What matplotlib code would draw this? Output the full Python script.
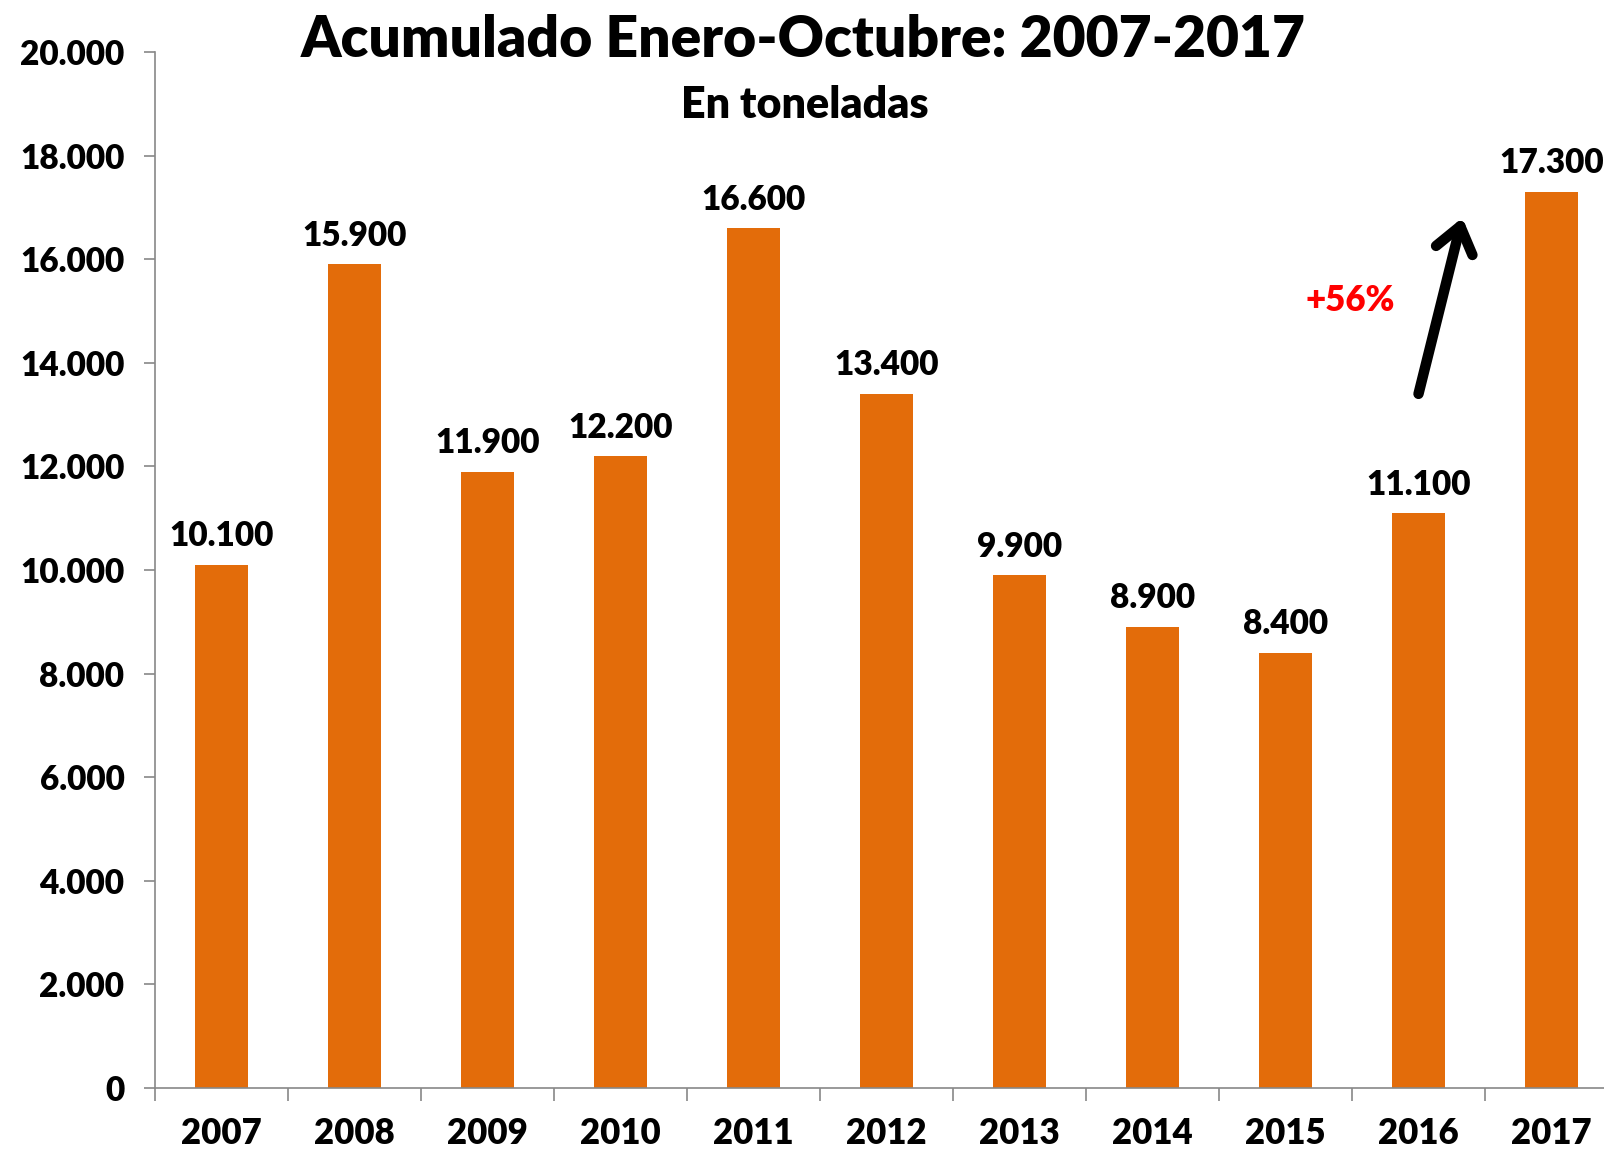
import matplotlib
matplotlib.use("Agg")
import matplotlib.pyplot as plt
import numpy as np

years = ["2007", "2008", "2009", "2010", "2011", "2012", "2013", "2014", "2015", "2016", "2017"]
values = [10100, 15900, 11900, 12200, 16600, 13400, 9900, 8900, 8400, 11100, 17300]
value_labels = ["10.100", "15.900", "11.900", "12.200", "16.600", "13.400", "9.900", "8.900", "8.400", "11.100", "17.300"]
yticks = [0, 2000, 4000, 6000, 8000, 10000, 12000, 14000, 16000, 18000, 20000]
ytick_labels = ["0", "2.000", "4.000", "6.000", "8.000", "10.000", "12.000", "14.000", "16.000", "18.000", "20.000"]

plt.rcParams['font.family'] = ['Lato', 'DejaVu Sans']
W, H = 1604, 1151
fig = plt.figure(figsize=(W/100, H/100), dpi=100)
left, right, top, bottom = 155, 1618, 52, 1088
ax = fig.add_axes([left/W, 1-bottom/H, (right-left)/W, (bottom-top)/H])

FW = 'heavy'
x = np.arange(len(years))
ax.bar(x, values, width=0.4, color='#E36C0A', zorder=2)
ax.set_xlim(-0.5, len(years)-0.5)
ax.set_ylim(0, 20000)

for xi, v, lab in zip(x, values, value_labels):
    ax.annotate(lab, (xi, v), xytext=(0, 9), textcoords='offset points',
                ha='center', va='bottom', fontsize=24, fontweight=FW)

ax.set_yticks(yticks)
ax.set_yticklabels(ytick_labels, fontsize=24, fontweight=FW)
ax.set_xticks(x)
ax.set_xticklabels(years, fontsize=25, fontweight=FW)
ax.set_xticks(np.arange(-0.5, len(years)), minor=True)
ax.tick_params(axis='x', which='major', length=0, pad=21)
ax.tick_params(axis='x', which='minor', length=9, color='#888888', width=1.2)
ax.tick_params(axis='y', length=8, color='#888888', width=1.2, pad=14)
for s in ['top', 'right']:
    ax.spines[s].set_visible(False)
for s in ['left', 'bottom']:
    ax.spines[s].set_color('#888888')
    ax.spines[s].set_linewidth(1.2)

fig.text(803/W, 1-40/H, "Acumulado Enero-Octubre: 2007-2017", ha='center', va='center',
         fontsize=41, fontweight=FW)
fig.text(805/W, 1-105/H, "En toneladas", ha='center', va='center',
         fontsize=31, fontweight=FW)

ax.annotate("", xy=(9.33, 16800), xytext=(9.0, 13400),
            arrowprops=dict(arrowstyle='->,head_length=0.6,head_width=0.45', color='black', lw=7.5,
                            mutation_scale=30, capstyle='round', joinstyle='round',
                            shrinkA=0, shrinkB=0))
ax.text(8.49, 15200, "+56%", color='#FF0000', fontsize=25, fontweight=FW, ha='center', va='center')

fig.savefig("out.png", dpi=100, facecolor='white')
